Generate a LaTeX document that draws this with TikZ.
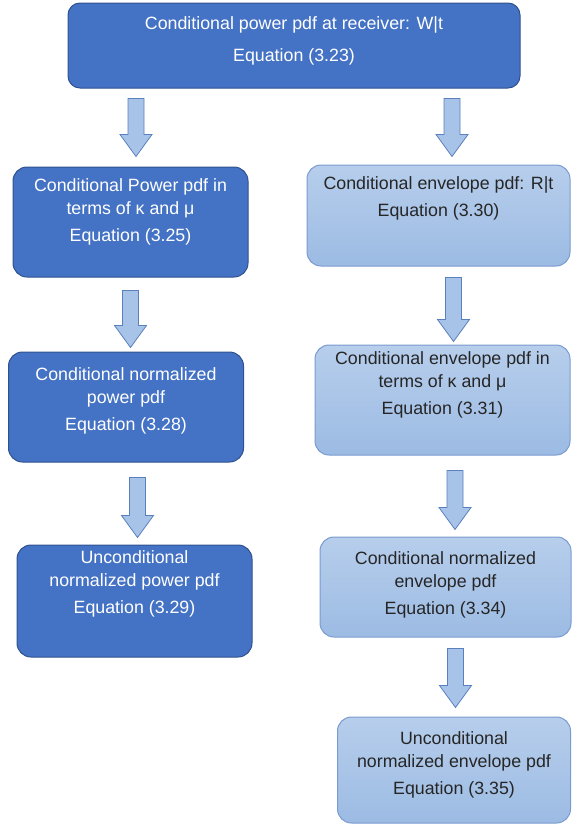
\documentclass[tikz,border=0pt]{standalone}
\usepackage{fontspec}
\setmainfont{Liberation Sans}
\usetikzlibrary{calc}
\definecolor{powerfill}{HTML}{4472C4}
\definecolor{powerline}{HTML}{2F528F}
\definecolor{envtop}{HTML}{B7CEEC}
\definecolor{envbot}{HTML}{9CBBE3}
\definecolor{envline}{HTML}{7A9BD0}
\definecolor{arrowfill}{HTML}{A8C3E8}
\definecolor{arrowline}{HTML}{5B80BE}
\definecolor{envtext}{HTML}{262626}

\begin{document}
\begin{tikzpicture}[x=1pt, y=-1pt,
    pbox/.style={rectangle, draw=powerline, line width=1pt, rounded corners=14pt, fill=powerfill, text=white, align=center, inner sep=0pt, font=\fontsize{17.8}{23}\selectfont},
    ebox/.style={rectangle, draw=envline, line width=1pt, rounded corners=14pt, top color=envtop, bottom color=envbot, text=envtext, align=center, inner sep=0pt, font=\fontsize{17.8}{23}\selectfont},
    blockarrow/.style={draw=arrowline, fill=arrowfill, line width=0.8pt, line join=miter,
        to path={let \p1=(\tikztostart), \p2=(\tikztotarget) in
            (\x1-8pt,\y1) -- (\x1+8pt,\y1) -- (\x1+8pt,\y2+22pt) -- (\x1+16pt,\y2+22pt)
            -- (\x1,\y2) -- (\x1-16pt,\y2+22pt) -- (\x1-8pt,\y2+22pt) -- cycle}}
]
    \useasboundingbox (0,0) rectangle (571,827);

    % Boxes
    \node[pbox, minimum width=452pt, minimum height=85pt, text depth=13pt, rounded corners=12pt] (top) at (294,45.5) {Conditional power pdf at receiver: W|t\\[9pt]Equation (3.23)};

    \node[pbox, minimum width=235pt, minimum height=110pt, text depth=24pt] (pk) at (130.5,222) {Conditional Power pdf in\\terms of κ and μ\\[4pt]Equation (3.25)};
    \node[pbox, minimum width=235pt, minimum height=110pt, text depth=15pt] (pnorm) at (126,407) {Conditional normalized\\power pdf\\[4pt]Equation (3.28)};
    \node[pbox, minimum width=235pt, minimum height=112pt, text depth=38pt] (puncond) at (134.5,601) {Unconditional\\normalized power pdf\\[4pt]Equation (3.29)};

    \node[ebox, minimum width=263pt, minimum height=101pt, text depth=38pt] (env) at (438.5,215.5) {Conditional envelope pdf: R|t\\[4pt]Equation (3.30)};
    \node[ebox, minimum width=255pt, minimum height=110pt, text depth=34pt] (ek) at (442.5,400) {Conditional envelope pdf in\\terms of κ and μ\\[4pt]Equation (3.31)};
    \node[ebox, minimum width=251pt, minimum height=100pt, text depth=8pt] (enorm) at (445.5,587) {Conditional normalized\\envelope pdf\\[4pt]Equation (3.34)};
    \node[ebox, minimum width=233pt, minimum height=106pt, text depth=14pt] (euncond) at (454,770) {Unconditional\\normalized envelope pdf\\[4pt]Equation (3.35)};

    % Arrows
    \draw[blockarrow] ($(top.south -| pk.south)+(5.5,10)$) to ($(pk.north)+(0,-10)$);
    \draw[blockarrow] ($(top.south -| env.south)+(13.5,10)$) to ($(env.north)+(0,-8)$);

    \draw[blockarrow] ($(pk.south)+(0,13)$) to ($(pnorm.north)+(0,-4)$);
    \draw[blockarrow] ($(pnorm.south)+(11.5,15)$) to ($(puncond.north)+(0,-7)$);

    \draw[blockarrow] ($(env.south)+(15,11)$) to ($(ek.north)+(0,-3)$);
    \draw[blockarrow] ($(ek.south)+(12.5,15)$) to ($(enorm.north)+(0,-7)$);
    \draw[blockarrow] ($(enorm.south)+(10,11)$) to ($(euncond.north)+(0,-9)$);
\end{tikzpicture}
\end{document}
